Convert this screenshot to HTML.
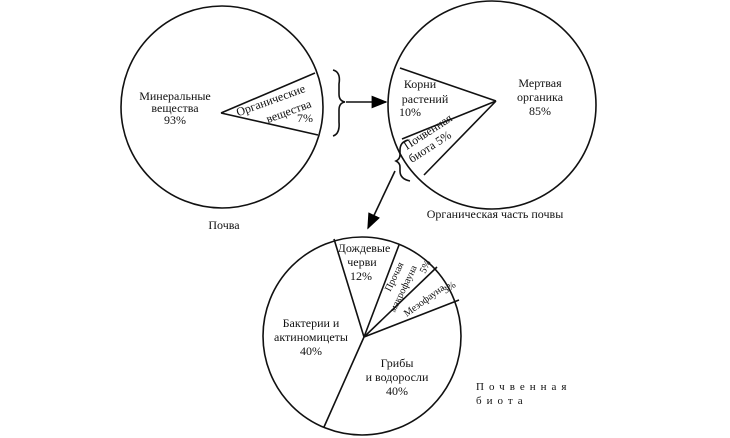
<html><body style="margin:0;background:#fff">
<svg width="730" height="438" xmlns="http://www.w3.org/2000/svg" style="font-family:'Liberation Serif',serif;font-size:12px">
<defs><marker id="a" markerWidth="10" markerHeight="8" refX="9" refY="4" orient="auto"><path d="M0,0L10,4L0,8z" fill="#000"/></marker></defs>
<g fill="none" stroke="#111" stroke-width="1.6">
<circle cx="222" cy="107" r="101"/>
<path d="M221,113L315,73M221,113L318,135"/>
<path d="M333,70q8,2 6,14v10q0,7 6,8q-6,1 -6,8v12q1,12 -6,14"/>
<line x1="346" y1="102" x2="386" y2="102" marker-end="url(#a)"/>
<circle cx="492" cy="105" r="104"/>
<path d="M496,101L400,68M496,101L402,139M496,101L424,175"/>
<path d="M408,140q-8,2 -8,10v5q0,4 -4,6q4,2 4,6v4q0,8 10,10"/>
<line x1="395" y1="171" x2="368" y2="228" marker-end="url(#a)"/>
<circle cx="362" cy="336" r="99"/>
<path d="M364,337L334,239M364,337L399,245M364,337L437,267M364,337L459,300M364,337L324,427"/>
</g>
<g fill="#111" text-anchor="middle">
<text x="175" y="100">Минеральные</text><text x="175" y="112">вещества</text><text x="175" y="124">93%</text>
<text x="272" y="104" transform="rotate(-20 272 104)">Органические</text>
<text x="290" y="115" transform="rotate(-20 290 115)">вещества</text>
<text x="305" y="122">7%</text>
<text x="420" y="88">Корни</text><text x="425" y="103">растений</text><text x="410" y="116">10%</text>
<text x="540" y="87">Мертвая</text><text x="540" y="101">органика</text><text x="540" y="115">85%</text>
<text x="430" y="135" transform="rotate(-33 430 135)">Почвенная</text>
<text x="432" y="150" transform="rotate(-33 432 150)">биота 5%</text>
<text x="224" y="229">Почва</text>
<text x="495" y="218">Органическая часть почвы</text>
<text x="364" y="252">Дождевые</text><text x="362" y="266">черви</text><text x="361" y="280">12%</text>
<text x="397" y="278" transform="rotate(-64 397 278)" font-size="10">Прочая</text>
<text x="406" y="290" transform="rotate(-64 406 290)" font-size="10">макрофауна</text>
<text x="428" y="268" transform="rotate(-64 428 268)" font-size="10">5%</text>
<text x="426" y="303" transform="rotate(-36 426 303)" font-size="10">Мезофауна</text>
<text x="451" y="290" transform="rotate(-36 451 290)" font-size="10">3%</text>
<text x="311" y="327">Бактерии и</text><text x="311" y="341">актиномицеты</text><text x="311" y="355">40%</text>
<text x="397" y="367">Грибы</text><text x="397" y="381">и водоросли</text><text x="397" y="395">40%</text>
</g>
<g fill="#111" font-size="11" letter-spacing="5"><text x="476" y="390">Почвенная</text><text x="476" y="404">биота</text></g>
</svg>
</body></html>
